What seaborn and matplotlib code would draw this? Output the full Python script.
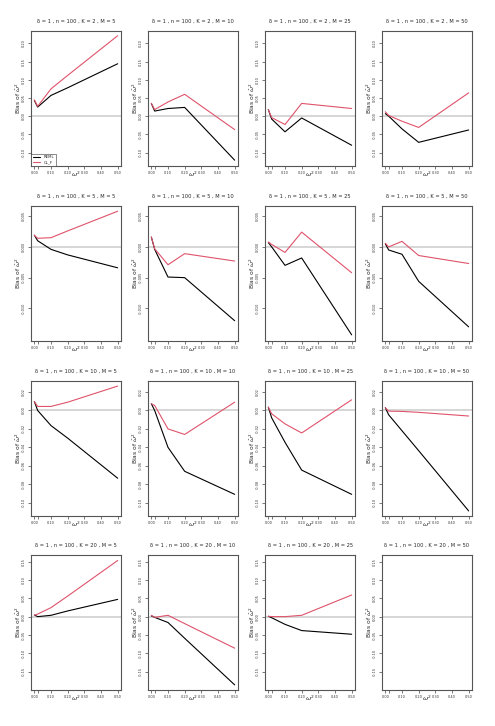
import numpy as np
import pandas as pd
import matplotlib
matplotlib.use("Agg")
import matplotlib.pyplot as plt
import seaborn as sns

# ---------- Data ----------
OMEGA = [0.0, 0.02, 0.1, 0.2, 0.5]
K_VALUES = [2, 5, 10, 20]
M_VALUES = [5, 10, 25, 50]

# one list per M (5, 10, 25, 50)
REML_K2 = [[0.043, 0.025, 0.057, 0.078, 0.144],
           [0.035, 0.014, 0.021, 0.024, -0.121],
           [0.018, -0.008, -0.043, -0.005, -0.080],
           [0.007, 0.000, -0.035, -0.072, -0.038]]
CLF_K2 = [[0.045, 0.027, 0.075, 0.112, 0.221],
          [0.035, 0.018, 0.039, 0.060, -0.037],
          [0.018, -0.004, -0.023, 0.035, 0.021],
          [0.012, 0.002, -0.014, -0.031, 0.064]]

REML_K5 = [[0.0019, 0.0010, -0.0004, -0.0013, -0.0034],
           [0.0016, -0.0004, -0.0049, -0.0050, -0.0120],
           [0.0007, 0.0000, -0.0030, -0.0018, -0.0143],
           [0.0005, -0.0005, -0.0012, -0.0056, -0.0130]]
CLF_K5 = [[0.0019, 0.0014, 0.0015, 0.0026, 0.0058],
          [0.0016, -0.0003, -0.0029, -0.0011, -0.0023],
          [0.0008, 0.0004, -0.0009, 0.0024, -0.0042],
          [0.0006, 0.0000, 0.0009, -0.0014, -0.0027]]

REML_K10 = [[0.0098, 0.0000, -0.0164, -0.0300, -0.0735],
            [0.0073, 0.0000, -0.0400, -0.0660, -0.0910],
            [0.0036, -0.0080, -0.0345, -0.0647, -0.0910],
            [0.0030, -0.0047, -0.0220, -0.0436, -0.1090]]
CLF_K10 = [[0.0098, 0.0044, 0.0044, 0.0090, 0.0265],
           [0.0073, 0.0055, -0.0200, -0.0260, 0.0090],
           [0.0036, -0.0036, -0.0145, -0.0244, 0.0116],
           [0.0030, -0.0007, -0.0010, -0.0020, -0.0060]]

REML_K20 = [[0.0045, 0.0000, 0.0036, 0.0155, 0.047],
            [0.0020, -0.0020, -0.0160, -0.0590, -0.186],
            [0.0010, -0.0030, -0.0210, -0.0380, -0.048],
            None]
CLF_K20 = [[0.0036, 0.0070, 0.0245, 0.0560, 0.153],
           [0.0036, -0.0020, 0.0036, -0.0190, -0.086],
           [0.0010, 0.0000, 0.0000, 0.0036, 0.059],
           None]

REML = [REML_K2, REML_K5, REML_K10, REML_K20]
CLF = [CLF_K2, CLF_K5, CLF_K10, CLF_K20]

Y_TICKS = [[-0.10, -0.05, 0.00, 0.05, 0.10, 0.15, 0.20],
           [-0.010, -0.005, 0.000, 0.005],
           [-0.10, -0.08, -0.06, -0.04, -0.02, 0.00, 0.02],
           [-0.15, -0.10, -0.05, 0.00, 0.05, 0.10, 0.15]]
Y_FMT = ["{:.2f}", "{:.3f}", "{:.2f}", "{:.2f}"]
Y_LIMS = [(-0.137, 0.234), (-0.0153, 0.00665), (-0.1145, 0.032), (-0.200, 0.168)]
X_TICKS = [0.0, 0.1, 0.2, 0.3, 0.4, 0.5]

RED = "#DF536B"

# ---------- Figure ----------
sns.set_style("white")
plt.rcParams['font.family'] = ['DejaVu Sans']
W, H = 495, 726
fig = plt.figure(figsize=(W / 100, H / 100), dpi=100)

col_left = [31, 148, 265, 382]
row_top = [31, 206, 381, 555]
ax_w, ax_h = 90, 135

for r, K in enumerate(K_VALUES):
    for c, M in enumerate(M_VALUES):
        ax = fig.add_axes([col_left[c] / W, 1 - (row_top[r] + ax_h) / H, ax_w / W, ax_h / H])
        ax.axhline(0, color="#d0d0d0", lw=1.2, zorder=1)

        reml = REML[r][c]
        clf = CLF[r][c]
        if reml is not None:
            df = pd.DataFrame({"omega": OMEGA * 2,
                               "bias": reml + clf,
                               "method": ["REML"] * len(OMEGA) + ["CL_F"] * len(OMEGA)})
            sns.lineplot(data=df, x="omega", y="bias", hue="method",
                         palette={"REML": "black", "CL_F": RED},
                         lw=0.8, ax=ax, legend=False, zorder=3)

        ax.set_xlim(-0.02, 0.52)
        ax.set_ylim(*Y_LIMS[r])
        ax.set_xticks(X_TICKS)
        ax.set_xticklabels(["{:.2f}".format(t) for t in X_TICKS])
        ax.set_xticks([0.02], minor=True)
        ax.set_yticks(Y_TICKS[r])
        ax.set_yticklabels([Y_FMT[r].format(t) for t in Y_TICKS[r]],
                           rotation=90, va="center")
        ax.tick_params(axis="both", which="both", direction="out", length=2,
                       width=0.5, labelsize=2.5, pad=1.5, color="#444444",
                       labelcolor="#333333", left=True, bottom=True)
        for sp in ax.spines.values():
            sp.set_color("#555555")
            sp.set_linewidth(0.8)

        ax.set_xlabel(r"$\omega^2$", fontsize=4.5, labelpad=-4)
        ax.set_ylabel(r"Bias of $\hat{\omega}^2$", fontsize=4.3, labelpad=-0.5)
        ax.set_title(f"δ = 1 , n = 100 , K = {K} , M = {M}", fontsize=3.7, pad=6)

        if r == 0 and c == 0:
            ax.plot([], [], color="black", lw=0.8, label="REML")
            ax.plot([], [], color=RED, lw=0.8, label="CL_F")
            leg = ax.legend(loc="lower left", fontsize=2.8, frameon=True,
                            fancybox=False, edgecolor="#333333",
                            handlelength=2, borderpad=0.4, labelspacing=0.3,
                            borderaxespad=0)
            leg.get_frame().set_linewidth(0.5)

fig.savefig("out.png", dpi=100)
plt.close(fig)
